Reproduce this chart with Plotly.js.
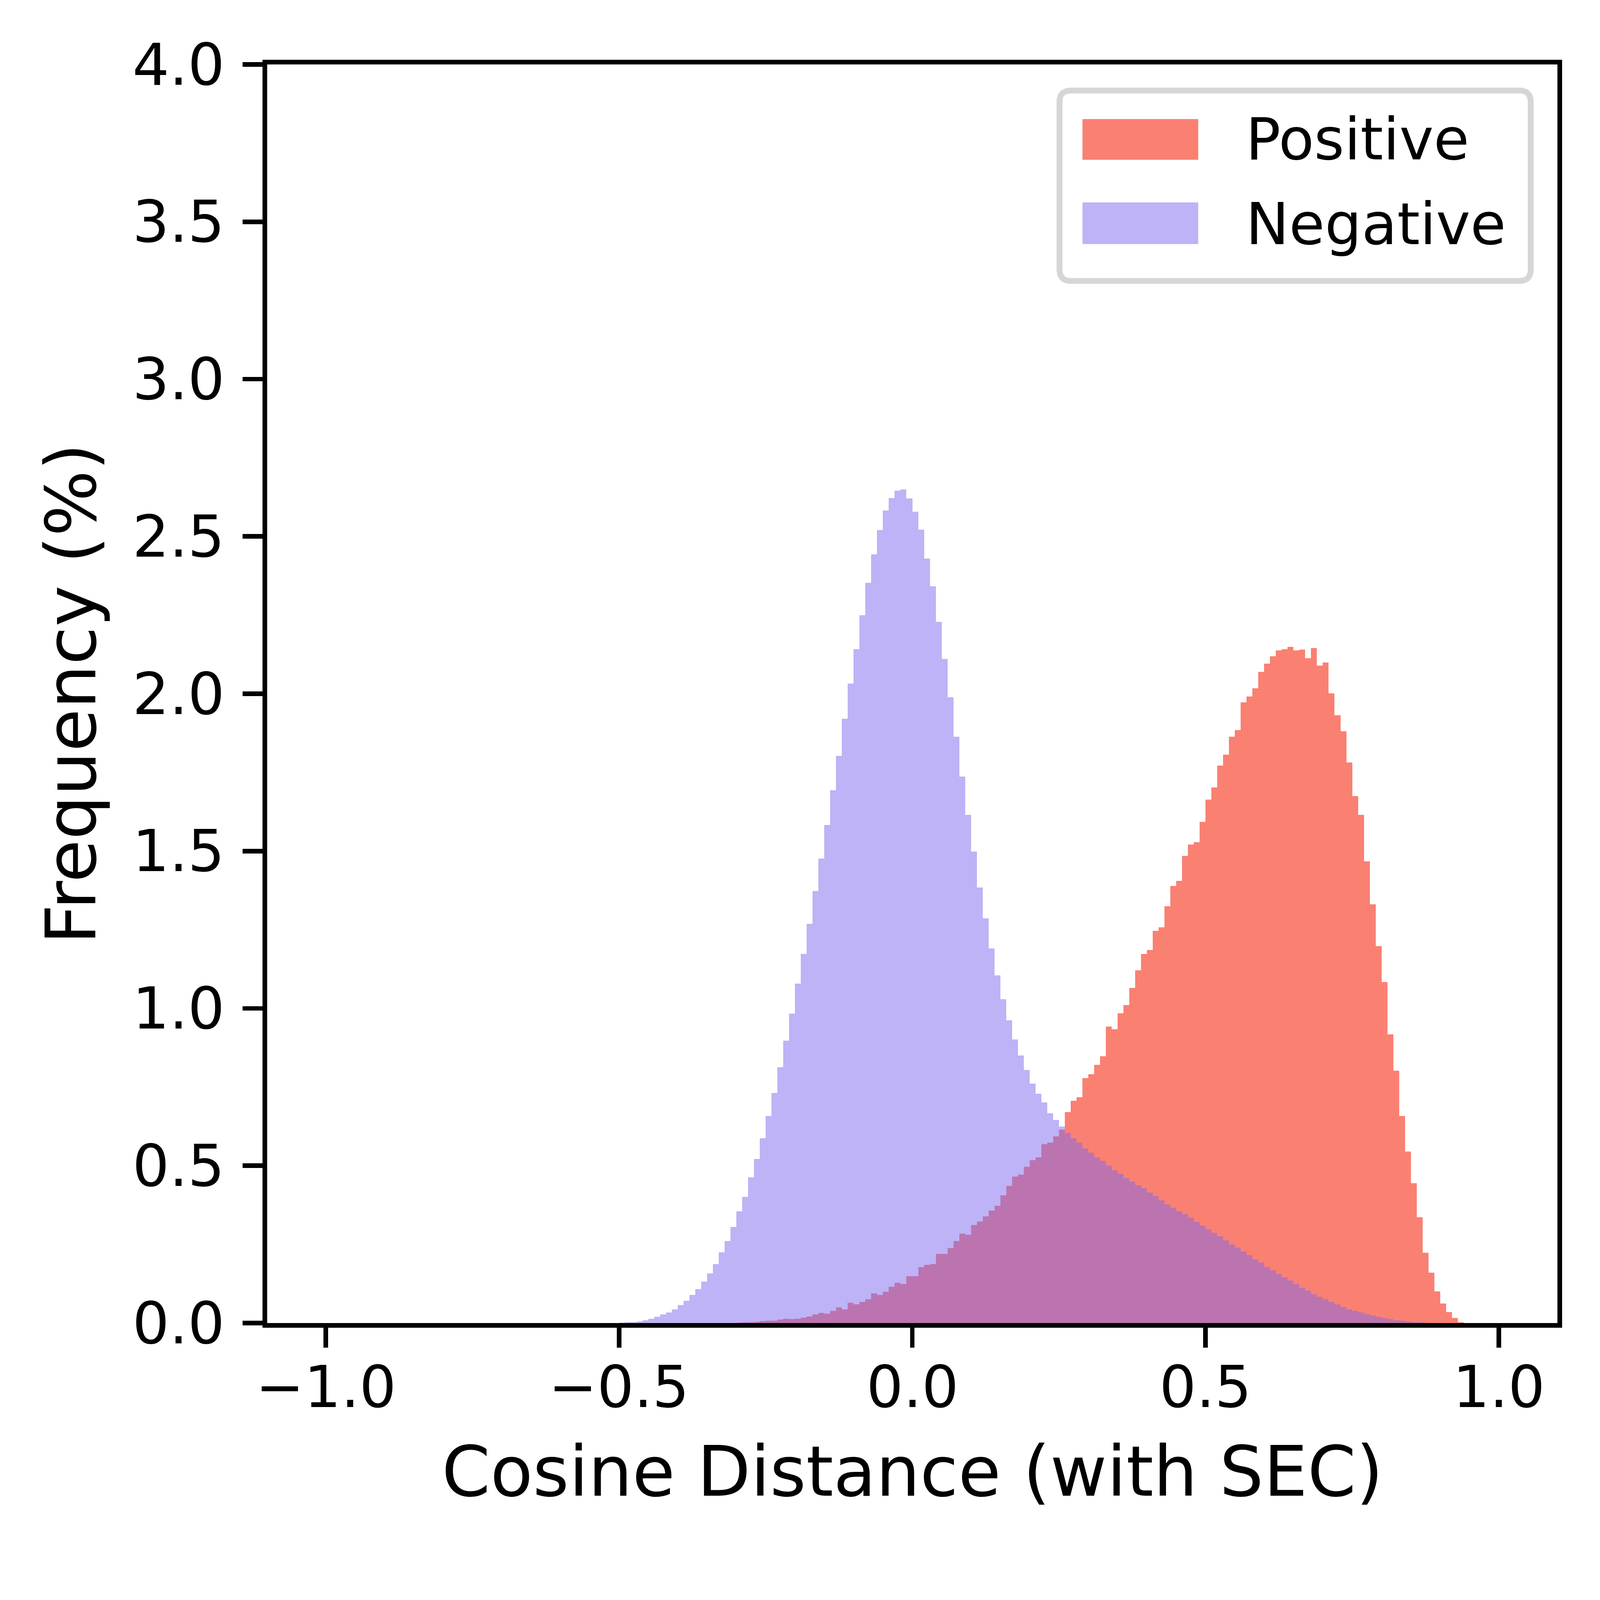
<!DOCTYPE html>
<html>
<head>
<meta charset="utf-8">
<script src="https://cdn.plot.ly/plotly-3.0.1.min.js"></script>
<style>
  html, body { margin: 0; padding: 0; background: #fff; overflow: hidden; }
</style>
</head>
<body>
<div id="chart"></div>
<script>
// histogram bins: width 0.01, each list starts at the left edge given
var binWidth = 0.01;
var posStart = -0.30;
var negStart = -0.50;

// Positive pairs, frequency (%) per bin from -0.30 to 0.93
var posFreq = [
	0.001, 0.002, 0.003, 0.004, 0.006, 0.008, 0.008, 0.011, 0.014, 0.012,
	0.014, 0.018, 0.021, 0.027, 0.032, 0.030, 0.039, 0.050, 0.044, 0.064,
	0.060, 0.067, 0.076, 0.094, 0.090, 0.099, 0.115, 0.128, 0.124, 0.149,
	0.149, 0.177, 0.185, 0.188, 0.220, 0.220, 0.238, 0.261, 0.284, 0.280,
	0.311, 0.323, 0.339, 0.357, 0.373, 0.406, 0.436, 0.465, 0.472, 0.497,
	0.518, 0.527, 0.568, 0.573, 0.593, 0.614, 0.671, 0.706, 0.717, 0.779,
	0.791, 0.820, 0.848, 0.942, 0.933, 0.985, 1.011, 1.065, 1.121, 1.173,
	1.185, 1.247, 1.258, 1.325, 1.389, 1.405, 1.485, 1.521, 1.528, 1.593,
	1.664, 1.702, 1.771, 1.806, 1.863, 1.884, 1.973, 1.991, 2.017, 2.069,
	2.095, 2.119, 2.138, 2.142, 2.149, 2.138, 2.140, 2.113, 2.145, 2.090,
	2.099, 2.001, 1.932, 1.881, 1.781, 1.675, 1.615, 1.467, 1.331, 1.198,
	1.084, 0.917, 0.802, 0.658, 0.545, 0.445, 0.337, 0.224, 0.160, 0.101,
	0.062, 0.035, 0.016, 0.003
];

// Negative pairs, frequency (%) per bin from -0.50 to 0.87
var negFreq = [
	0.001, 0.002, 0.003, 0.005, 0.009, 0.014, 0.020, 0.027, 0.034, 0.044,
	0.057, 0.071, 0.089, 0.108, 0.131, 0.158, 0.188, 0.225, 0.261, 0.305,
	0.355, 0.401, 0.463, 0.522, 0.587, 0.658, 0.731, 0.813, 0.898, 0.983,
	1.079, 1.173, 1.269, 1.373, 1.476, 1.583, 1.693, 1.803, 1.920, 2.032,
	2.142, 2.250, 2.353, 2.443, 2.520, 2.582, 2.622, 2.646, 2.649, 2.621,
	2.578, 2.521, 2.429, 2.342, 2.229, 2.111, 1.989, 1.863, 1.737, 1.615,
	1.498, 1.384, 1.286, 1.191, 1.105, 1.029, 0.962, 0.901, 0.850, 0.804,
	0.761, 0.729, 0.701, 0.667, 0.646, 0.625, 0.605, 0.587, 0.573, 0.555,
	0.541, 0.527, 0.515, 0.500, 0.486, 0.474, 0.460, 0.449, 0.438, 0.428,
	0.415, 0.403, 0.390, 0.378, 0.366, 0.355, 0.346, 0.335, 0.321, 0.309,
	0.298, 0.287, 0.275, 0.263, 0.250, 0.240, 0.227, 0.216, 0.202, 0.192,
	0.179, 0.167, 0.156, 0.145, 0.135, 0.124, 0.112, 0.103, 0.092, 0.083,
	0.076, 0.067, 0.060, 0.051, 0.044, 0.039, 0.034, 0.028, 0.023, 0.020,
	0.016, 0.012, 0.009, 0.007, 0.005, 0.003, 0.002, 0.001
];

var seriesNames = ['Positive', 'Negative'];
var xTickVals = [-1.0, -0.5, 0.0, 0.5, 1.0];
var xTickText = ['\u22121.0', '\u22120.5', '0.0', '0.5', '1.0'];
var yTickVals = [0, 0.5, 1.0, 1.5, 2.0, 2.5, 3.0, 3.5, 4.0];
var yTickText = ['0.0', '0.5', '1.0', '1.5', '2.0', '2.5', '3.0', '3.5', '4.0'];
var xTitle = 'Cosine Distance (with SEC)';
var yTitle = 'Frequency (%)';

var posColor = '#FA8072';
var negColor = 'rgba(123,104,238,0.5)';
var fontFamily = 'DejaVu Sans, sans-serif';

// the sizes below are in pixels of the 4606x4465 picture; scale them to whatever viewport we get
var W = window.innerWidth || 4606;
var H = window.innerHeight || 4465;
var s = Math.min(W / 4606, H / 4465);
function px(v){ return v * s; }

var chartDiv = document.getElementById('chart');
chartDiv.style.width = px(4606) + 'px';
chartDiv.style.height = px(4465) + 'px';

var postrace = {
	x0: posStart + binWidth / 2,
	dx: binWidth,
	y: posFreq,
	width: binWidth,
	name: seriesNames[0],
	type: 'bar',
	marker: {color: posColor, line: {width: 0}}
};
var negtrace = {
	x0: negStart + binWidth / 2,
	dx: binWidth,
	y: negFreq,
	width: binWidth,
	name: seriesNames[1],
	type: 'bar',
	marker: {color: negColor, line: {width: 0}}
};

// legend drawn by hand so the swatches look like matplotlib patches
function roundRect(x0, y0, x1, y1, rx, ry){
	return 'M' + (x0 + rx) + ',' + y0 + ' L' + (x1 - rx) + ',' + y0 +
		' Q' + x1 + ',' + y0 + ' ' + x1 + ',' + (y0 + ry) +
		' L' + x1 + ',' + (y1 - ry) +
		' Q' + x1 + ',' + y1 + ' ' + (x1 - rx) + ',' + y1 +
		' L' + (x0 + rx) + ',' + y1 +
		' Q' + x0 + ',' + y1 + ' ' + x0 + ',' + (y1 - ry) +
		' L' + x0 + ',' + (y0 + ry) +
		' Q' + x0 + ',' + y0 + ' ' + (x0 + rx) + ',' + y0 + ' Z';
}

var shapes = [
	{type: 'path', xref: 'paper', yref: 'paper', layer: 'above',
	 path: roundRect(0.6141, 0.8280, 0.9793, 0.9793, 0.0089, 0.0091),
	 fillcolor: 'rgba(255,255,255,0.8)', line: {color: '#D6D6D6', width: px(17)}},
	{type: 'rect', xref: 'paper', yref: 'paper', layer: 'above',
	 x0: 0.6319, x1: 0.7216, y0: 0.9243, y1: 0.9566,
	 fillcolor: posColor, line: {width: 0}},
	{type: 'rect', xref: 'paper', yref: 'paper', layer: 'above',
	 x0: 0.6319, x1: 0.7216, y0: 0.8573, y1: 0.8904,
	 fillcolor: negColor, line: {width: 0}}
];

var tickFont = {family: fontFamily, size: px(167), color: '#000'};
var titleFont = {family: fontFamily, size: px(200), color: '#000'};

var annotations = [
	{xref: 'paper', yref: 'paper', x: 0.7578, y: 0.9406, xanchor: 'left', yanchor: 'middle',
	 text: seriesNames[0], showarrow: false, font: tickFont},
	{xref: 'paper', yref: 'paper', x: 0.7578, y: 0.8733, xanchor: 'left', yanchor: 'middle',
	 text: seriesNames[1], showarrow: false, font: tickFont},
	// axis titles, placed where matplotlib put them
	{xref: 'paper', yref: 'paper', x: 0.5, y: 0, xanchor: 'center', yanchor: 'middle',
	 yshift: px(-428), text: xTitle, showarrow: false, font: titleFont},
	{xref: 'paper', yref: 'paper', x: 0, y: 0.5, xanchor: 'center', yanchor: 'middle',
	 xshift: px(-565), textangle: -90, text: yTitle, showarrow: false, font: titleFont}
];

// tick labels as text at the axis values (matplotlib keeps a wider gap than plotly)
for (var i = 0; i < xTickVals.length; i++){
	annotations.push({xref: 'x', yref: 'paper', x: xTickVals[i], y: 0,
		xanchor: 'center', yanchor: 'middle', yshift: px(-184),
		text: xTickText[i], showarrow: false, font: tickFont});
}
for (var j = 0; j < yTickVals.length; j++){
	annotations.push({xref: 'paper', yref: 'y', x: 0, y: yTickVals[j],
		xanchor: 'right', yanchor: 'middle', xshift: px(-120),
		text: yTickText[j], showarrow: false, font: tickFont});
}

var layout = {
	width: px(4606),
	height: px(4465),
	margin: {l: px(769), r: px(123), t: px(185), b: px(657), pad: 0},
	barmode: 'overlay',
	bargap: 0,
	showlegend: false,
	paper_bgcolor: '#fff',
	plot_bgcolor: '#fff',
	font: {family: fontFamily, color: '#000'},
	xaxis: {
		range: [-1.1, 1.1],
		tickvals: xTickVals,
		showticklabels: false,
		ticks: 'outside', ticklen: px(58), tickwidth: px(13), tickcolor: '#000',
		showline: true, linewidth: px(13), linecolor: '#000', mirror: true,
		showgrid: false, zeroline: false
	},
	yaxis: {
		range: [0, 4],
		tickvals: yTickVals,
		showticklabels: false,
		ticks: 'outside', ticklen: px(58), tickwidth: px(13), tickcolor: '#000',
		showline: true, linewidth: px(13), linecolor: '#000', mirror: true,
		showgrid: false, zeroline: false
	},
	shapes: shapes,
	annotations: annotations
};

Plotly.newPlot(chartDiv, [postrace, negtrace], layout, {staticPlot: true});
</script>
</body>
</html>
